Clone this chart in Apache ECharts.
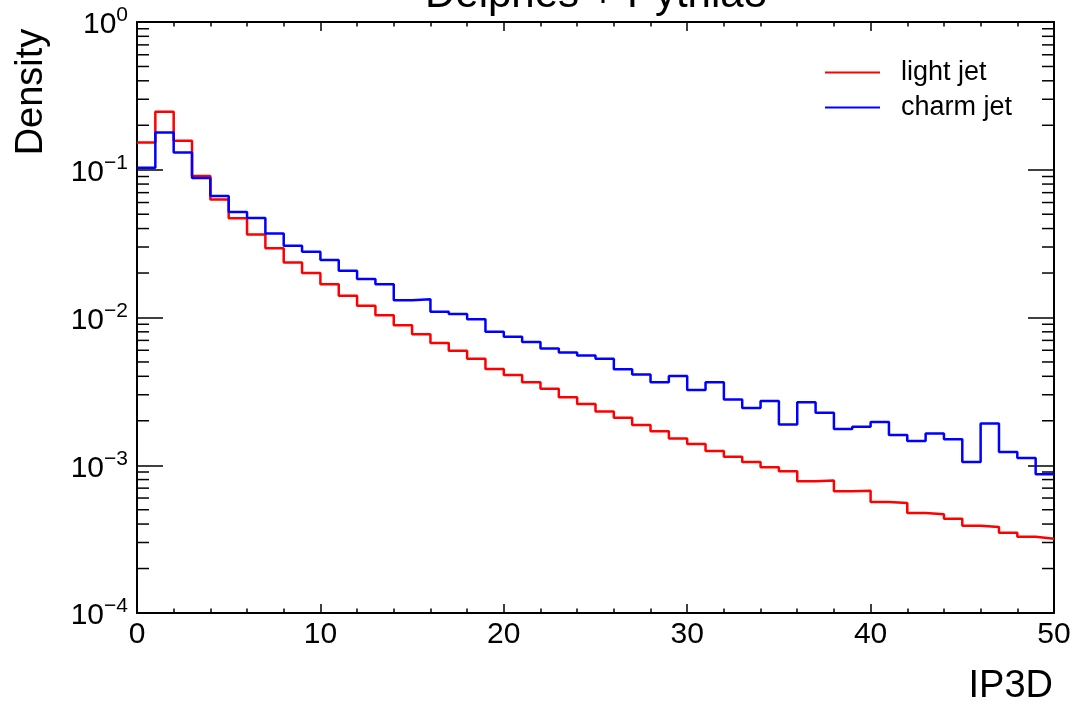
<!DOCTYPE html>
<html>
<head>
<meta charset="utf-8">
<script src="https://cdn.jsdelivr.net/npm/echarts@6/dist/echarts.min.js"></script>
<style>
html,body{margin:0;padding:0;background:#fff;}
#chart{width:1076px;height:708px;}
</style>
</head>
<body>
<div id="chart"></div>
<script>
// ---- data ----
const binEdges = [0,1,2,3,4,5,6,7,8,9,10,11,12,13,14,15,16,17,18,19,20,21,22,23,24,25,26,27,28,29,30,31,32,33,34,35,36,37,38,39,40,41,42,43,44,45,46,47,48,49,50];
const lightJet = [0.153,0.247,0.157,0.0907,0.063,0.0469,0.0364,0.0294,0.0236,0.0200,
  0.0168,0.01405,0.0120,0.01035,0.00886,0.00769,0.00672,0.00596,0.00526,0.00448,
  0.00408,0.00364,0.00330,0.00288,0.0026,0.00231,0.00210,0.00187,0.0017,0.00152,
  0.00139,0.00125,0.00114,0.00105,0.00097,0.00091,0.000778,0.000787,0.000666,0.000673,
  0.000564,0.000555,0.000475,0.000466,0.000435,0.00039,0.000382,0.000349,0.000328,0.000318];
const charmJet = [0.103,0.179,0.131,0.0879,0.0664,0.0518,0.0471,0.0371,0.0306,0.0279,
  0.0245,0.0207,0.0182,0.0168,0.0131,0.0133,0.01095,0.01056,0.00972,0.00802,
  0.00742,0.00683,0.00618,0.0058,0.00554,0.00526,0.00446,0.00412,0.00364,0.00402,
  0.00323,0.00364,0.00279,0.00244,0.00272,0.00189,0.00267,0.00227,0.00176,0.00182,
  0.00196,0.0016,0.00146,0.00164,0.0015,0.00105,0.00192,0.00123,0.00112,0.00087];
const seriesNames = ['light jet','charm jet'];
const xTickLabels = ['0','10','20','30','40','50'];
const yTickExponents = [-4,-3,-2,-1,0];
const yMinorTicks = [];
for (const e of yTickExponents.slice(0, -1)) {
  for (let k = 2; k <= 9; k++) yMinorTicks.push(k * Math.pow(10, e));
}

// ---- build ----
function stepData(vals) {
  const d = vals.map((v, i) => [binEdges[i], v]);
  d.push([binEdges[vals.length], vals[vals.length - 1]]);
  return d;
}
const FONT = '"Liberation Sans", Arial, Helvetica, sans-serif';
const chart = echarts.init(document.getElementById('chart'), null, {renderer: 'canvas'});

const minorTickSeries = {
  type: 'custom',
  name: 'minorTicks',
  silent: true,
  clip: false,
  z: 5,
  data: yMinorTicks.map(v => [0, v]),
  renderItem: function (params, api) {
    const v = api.value(1);
    const L = api.coord([0, v]);
    const R = api.coord([50, v]);
    const st = {stroke: '#000', lineWidth: 1.5};
    return {
      type: 'group',
      children: [
        {type: 'line', shape: {x1: L[0], y1: L[1], x2: L[0] + 12, y2: L[1]}, style: st},
        {type: 'line', shape: {x1: R[0], y1: R[1], x2: R[0] - 12, y2: R[1]}, style: st}
      ]
    };
  }
};

const option = {
  animation: false,
  backgroundColor: '#fff',
  grid: {left: 137, right: 22, top: 22, bottom: 95, containLabel: false},
  legend: {
    data: seriesNames,
    orient: 'vertical',
    left: 820,
    top: 54,
    itemWidth: 55,
    itemHeight: 14,
    itemGap: 8,
    icon: 'path://M0,6 L55,6 L55,8 L0,8 Z',
    textStyle: {fontFamily: FONT, fontSize: 27, color: '#000', lineHeight: 27, padding: [0, 0, 0, 16]}
  },
  xAxis: [{
    type: 'value', min: 0, max: 50, interval: 10, position: 'bottom',
    axisLine: {show: true, onZero: false, lineStyle: {color: '#000', width: 2}},
    axisTick: {show: true, inside: true, length: 9, lineStyle: {color: '#000', width: 1.5}},
    minorTick: {show: true, splitNumber: 5, length: 4.5, lineStyle: {color: '#000', width: 1.5}},
    splitLine: {show: false},
    axisLabel: {
      fontFamily: FONT, fontSize: 30, color: '#000', margin: 7,
      formatter: function (v) { return xTickLabels[Math.round(v / 10)]; }
    }
  }, {
    type: 'value', min: 0, max: 50, interval: 10, position: 'top',
    axisLine: {show: true, onZero: false, lineStyle: {color: '#000', width: 2}},
    axisTick: {show: true, inside: true, length: 9, lineStyle: {color: '#000', width: 1.5}},
    minorTick: {show: true, splitNumber: 5, length: 4.5, lineStyle: {color: '#000', width: 1.5}},
    splitLine: {show: false},
    axisLabel: {show: false}
  }],
  yAxis: [{
    type: 'log', logBase: 10, min: 1e-4, max: 1, position: 'left',
    axisLine: {show: true, onZero: false, lineStyle: {color: '#000', width: 2}},
    axisTick: {show: true, inside: true, length: 26, lineStyle: {color: '#000', width: 1.5}},
    splitLine: {show: false},
    axisLabel: {
      margin: 9,
      padding: [6, 0, 0, 0],
      formatter: function (v) {
        const e = Math.round(Math.log10(v));
        const s = e < 0 ? '\u2212' + (-e) : String(e);
        return '{b|10}{s|' + s + '}';
      },
      rich: {
        b: {fontFamily: FONT, fontSize: 30, color: '#000', lineHeight: 40, verticalAlign: 'middle'},
        s: {fontFamily: FONT, fontSize: 21, color: '#000', lineHeight: 19, verticalAlign: 'top'}
      }
    }
  }, {
    type: 'log', logBase: 10, min: 1e-4, max: 1, position: 'right',
    axisLine: {show: true, onZero: false, lineStyle: {color: '#000', width: 2}},
    axisTick: {show: true, inside: true, length: 26, lineStyle: {color: '#000', width: 1.5}},
    splitLine: {show: false},
    axisLabel: {show: false}
  }],
  series: [{
    name: seriesNames[0], type: 'line', step: 'end', showSymbol: false, symbol: 'none',
    data: stepData(lightJet), xAxisIndex: 0, yAxisIndex: 0,
    lineStyle: {color: '#ff0000', width: 2.5}, itemStyle: {color: '#ff0000'}, z: 3
  }, {
    name: seriesNames[1], type: 'line', step: 'end', showSymbol: false, symbol: 'none',
    data: stepData(charmJet), xAxisIndex: 0, yAxisIndex: 0,
    lineStyle: {color: '#0000ff', width: 2.5}, itemStyle: {color: '#0000ff'}, z: 4
  }, minorTickSeries],
  graphic: [
    {type: 'text', x: 596, y: 16, z: 10,
     style: {text: 'Delphes + Pythia8', font: '42px ' + FONT, fill: '#000', align: 'center', verticalAlign: 'bottom'}},
    {type: 'text', x: 32, y: 92, rotation: Math.PI / 2, z: 10,
     style: {text: 'Density', font: '38px ' + FONT, fill: '#000', align: 'center', verticalAlign: 'middle'}},
    {type: 'text', x: 1053, y: 706, z: 10,
     style: {text: 'IP3D', font: '38px ' + FONT, fill: '#000', align: 'right', verticalAlign: 'bottom'}}
  ]
};
chart.setOption(option);
</script>
</body>
</html>
